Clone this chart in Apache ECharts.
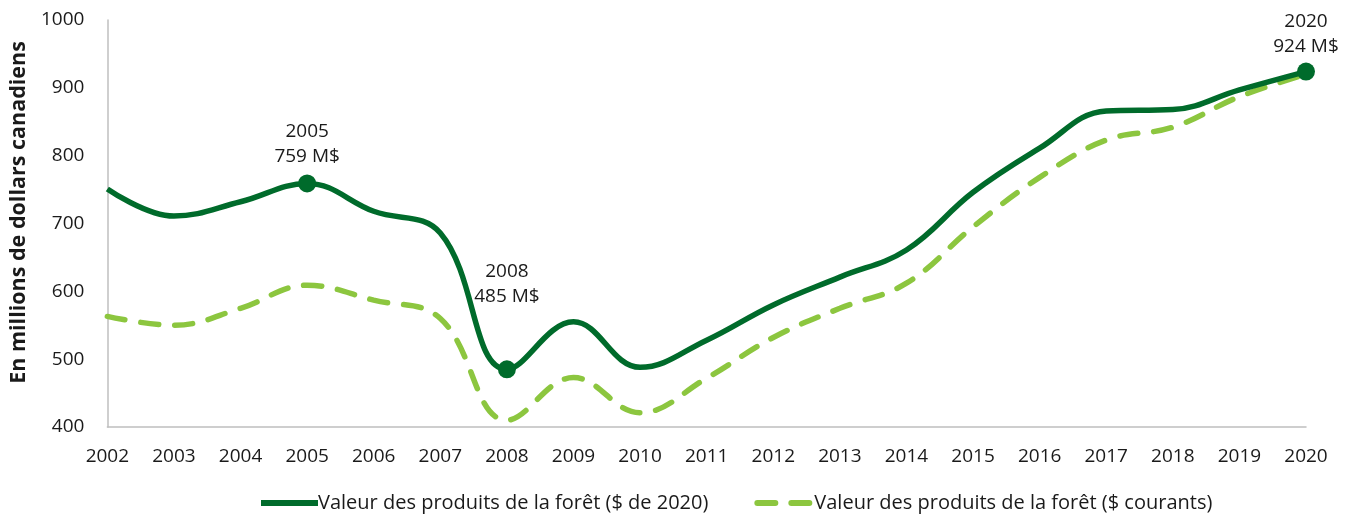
<!DOCTYPE html>
<html><head><meta charset="utf-8">
<script src="https://cdn.jsdelivr.net/npm/echarts@6/dist/echarts.min.js"></script>
<style>html,body{margin:0;padding:0;background:#fff}#c{width:1350px;height:518px}</style>
</head><body><div id="c"></div>
<script>
const years = ['2002','2003','2004','2005','2006','2007','2008','2009','2010','2011','2012','2013','2014','2015','2016','2017','2018','2019','2020'];
const real2020 = [751, 711, 732, 759, 718, 686, 485, 555, 488, 528, 580, 621, 661, 746, 811, 866, 868, 897, 924];
const current = [563, 550, 575, 609, 587, 560, 410, 473, 421, 472, 532, 575, 612, 695, 768, 823, 842, 887, 920];
const seriesNames = ['Valeur des produits de la forêt ($ de 2020)', 'Valeur des produits de la forêt ($ courants)'];
const yTicks = {min: 400, max: 1000, interval: 100};
const callouts = [
  {index: 3, text: '2005\n759 M$', offset: 0},
  {index: 6, text: '2008\n485 M$', offset: -46},
  {index: 18, text: '2020\n924 M$', offset: 2}
];

const font = '"Open Sans", "Noto Sans", sans-serif';
const dark = '#006b2b';
const light = '#8cc63f';
const textColor = '#1a1a1a';

const realData = real2020.map((v, i) => {
  const c = callouts.find(o => o.index === i);
  if (!c) return v;
  return {
    value: v, symbol: 'circle', symbolSize: 18,
    label: {show: true, position: 'top', formatter: c.text, offset: [0, c.offset],
      color: textColor, fontSize: 19, lineHeight: 25, fontFamily: font, distance: 5}
  };
});

const chart = echarts.init(document.getElementById('c'));
chart.setOption({
  animation: false,
  textStyle: {fontFamily: font},
  grid: {left: 107, right: 44, top: 20, bottom: 91},
  legend: {
    bottom: 0, left: 253, itemGap: 46, itemWidth: 57, itemHeight: 6,
    itemStyle: {opacity: 0},
    lineStyle: {width: 6},
    textStyle: {fontSize: 20, color: textColor, fontFamily: font, padding: [0, 0, 0, -5]},
    data: seriesNames
  },
  xAxis: {
    type: 'category', data: years, boundaryGap: false,
    axisLine: {lineStyle: {color: '#bfbfbf', width: 1.5}},
    axisTick: {show: false},
    axisLabel: {color: textColor, fontSize: 19, margin: 20, fontFamily: font}
  },
  yAxis: {
    type: 'value', min: yTicks.min, max: yTicks.max, interval: yTicks.interval,
    name: 'En millions de dollars canadiens', nameLocation: 'middle', nameGap: 70,
    nameTextStyle: {fontSize: 21.5, fontWeight: 'bold', color: textColor, fontFamily: font, padding: [0, 0, 0, 22]},
    axisLine: {show: true, lineStyle: {color: '#bfbfbf', width: 1.5}},
    axisTick: {show: false},
    splitLine: {show: false},
    axisLabel: {color: textColor, fontSize: 19, margin: 23, fontFamily: font, formatter: v => String(v)}
  },
  series: [
    {
      name: seriesNames[1], type: 'line', data: current, smooth: 0.4,
      symbol: 'none', z: 2,
      lineStyle: {color: light, width: 5.5, type: [18, 16], cap: 'round'},
      itemStyle: {color: light}
    },
    {
      name: seriesNames[0], type: 'line', data: realData, smooth: 0.4,
      symbol: 'none', z: 3,
      lineStyle: {color: dark, width: 5.5},
      itemStyle: {color: dark}
    }
  ]
});
</script></body></html>
